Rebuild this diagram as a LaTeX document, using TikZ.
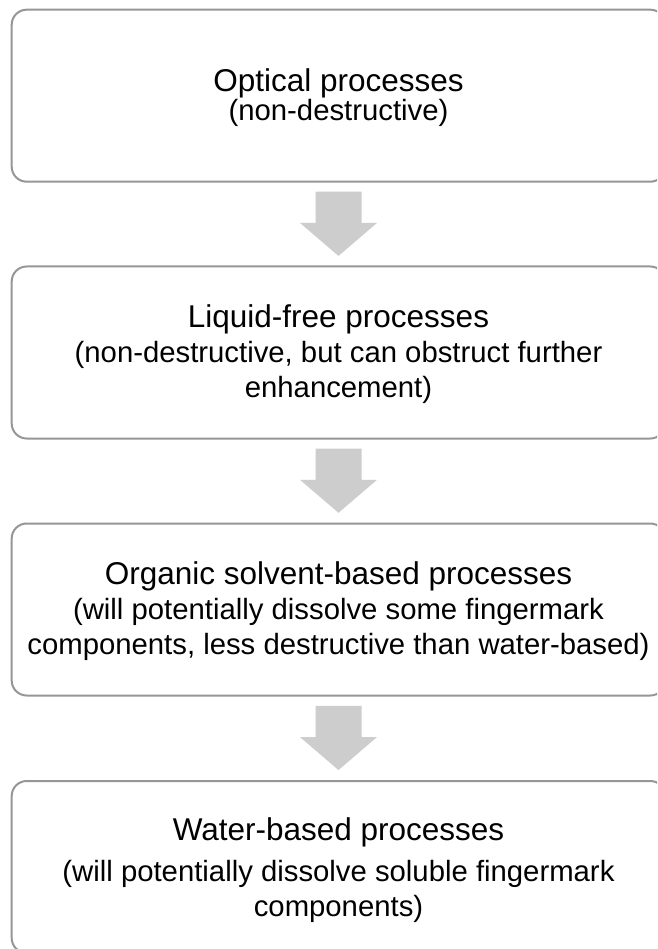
\documentclass[tikz,border=0pt]{standalone}
\usepackage{fontspec}
\setmainfont{Liberation Sans}
\usetikzlibrary{calc}
\definecolor{boxline}{HTML}{969696}
\definecolor{arrowfill}{HTML}{CDCDCD}
\tikzset{
  procbox/.style={draw=boxline, line width=2pt, rounded corners=15pt,
    minimum width=653.6pt, minimum height=172pt, inner sep=0pt},
  titletext/.style={anchor=base, inner sep=0pt, font=\fontsize{31.5}{36}\selectfont},
  subtext/.style={anchor=base, inner sep=0pt, font=\fontsize{29.3}{34}\selectfont},
  flowarrow/.style={fill=arrowfill, draw=none}
}
\newcommand\procarrow[2]{%
  \path ($(#1.south)!0.5!(#2.north)$) coordinate (m#1);
  \fill[flowarrow] ($(m#1)+(-23,-32.5)$) -- ($(m#1)+(23,-32.5)$) -- ($(m#1)+(23,-1.2)$)
    -- ($(m#1)+(38.5,-1.2)$) -- ($(m#1)+(0,31.8)$) -- ($(m#1)+(-38.5,-1.2)$)
    -- ($(m#1)+(-23,-1.2)$) -- cycle;}
\begin{document}
\begin{tikzpicture}[x=1pt,y=-1pt]
\useasboundingbox (0,0) rectangle (657,949);
\clip (0,0) rectangle (657,949);
\fill[white] (0,0) rectangle (657,949);
\node[procbox] (b1) at (338.5,95.7) {};
\node[procbox] (b2) at (338.5,352.5) {};
\node[procbox] (b3) at (338.5,609.5) {};
\node[procbox] (b4) at (338.5,867) {};
\procarrow{b1}{b2}
\procarrow{b2}{b3}
\procarrow{b3}{b4}
\node[titletext] (t1) at (338.5,91.7) {Optical processes};
\node[subtext] (s1) at (338.5,120.7) {(non-destructive)};
\node[titletext] (t2) at (338.5,327) {Liquid-free processes};
\node[subtext] (s2a) at (338.5,362) {(non-destructive, but can obstruct further};
\node[subtext] (s2b) at (338.5,397) {enhancement)};
\node[titletext] (t3) at (338.5,584.5) {Organic solvent-based processes};
\node[subtext] (s3a) at (338.5,619.5) {(will potentially dissolve some fingermark};
\node[subtext] (s3b) at (338.5,654.5) {components, less destructive than water-based)};
\node[titletext] (t4) at (338.5,840.7) {Water-based processes};
\node[subtext] (s4a) at (338.5,881.7) {(will potentially dissolve soluble fingermark};
\node[subtext] (s4b) at (338.5,916.7) {components)};
\end{tikzpicture}
\end{document}
